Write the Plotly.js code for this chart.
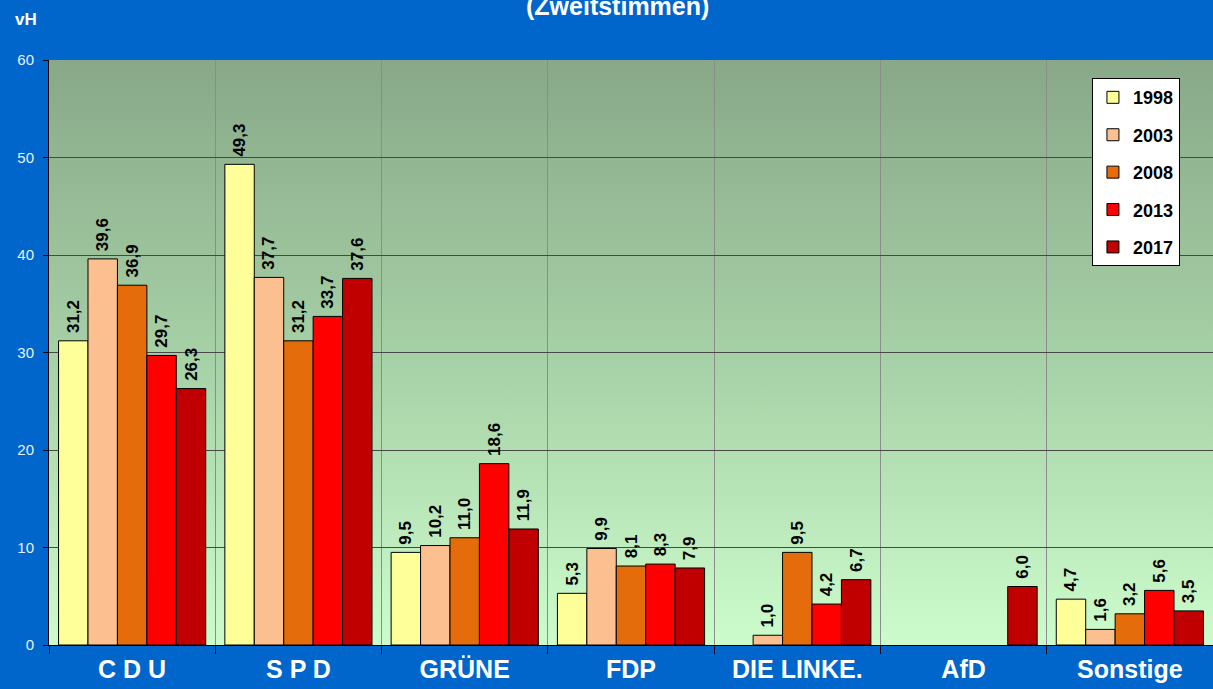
<!DOCTYPE html>
<html>
<head>
<meta charset="utf-8">
<script src="https://cdn.plot.ly/plotly-3.0.1.min.js"></script>
<style>html,body{margin:0;padding:0;background:#0066cc;}#chart{width:1213px;height:689px;}</style>
</head>
<body>
<div id="chart"></div>
<script>
const categories = ["C D U", "S P D", "GRÜNE", "FDP", "DIE LINKE.", "AfD", "Sonstige"];
const years = ["1998", "2003", "2008", "2013", "2017"];
const v1998 = [31.2, 49.3, 9.5, 5.3, null, null, 4.7];
const v2003 = [39.6, 37.7, 10.2, 9.9, 1.0, null, 1.6];
const v2008 = [36.9, 31.2, 11.0, 8.1, 9.5, null, 3.2];
const v2013 = [29.7, 33.7, 18.6, 8.3, 4.2, null, 5.6];
const v2017 = [26.3, 37.6, 11.9, 7.9, 6.7, 6.0, 3.5];
const series = [v1998, v2003, v2008, v2013, v2017];
const colors = ["#ffff99", "#fcbf8f", "#e46c0a", "#ff0000", "#c00000"];

const font = "Liberation Sans, Arial, sans-serif";

const traces = series.map((vals, i) => ({
  type: "bar",
  name: years[i],
  legendgroup: years[i],
  x: categories,
  y: vals,
  marker: {color: colors[i], line: {color: "#000000", width: 1}},
  text: vals.map(v => v === null ? "" : "\u00a0" + v.toFixed(1).replace(".", ",")),
  textposition: "outside",
  textangle: -90,
  cliponaxis: false,
  constraintext: "none",
  textfont: {family: font, size: 17, color: "#000000", weight: "bold"},
  hoverinfo: "x+y"
}));

const svg = "<svg xmlns='http://www.w3.org/2000/svg' width='10' height='100' preserveAspectRatio='none'>" +
  "<defs><linearGradient id='g' x1='0' y1='0' x2='0' y2='1'>" +
  "<stop offset='0' stop-color='#88a888'/><stop offset='0.55' stop-color='#a9d4a9'/><stop offset='1' stop-color='#ccfccc'/>" +
  "</linearGradient></defs><rect width='10' height='100' fill='url(#g)'/></svg>";
const bgSrc = "data:image/svg+xml;charset=utf-8," + encodeURIComponent(svg);

const layout = {
  width: 1213, height: 689,
  paper_bgcolor: "#0066cc",
  plot_bgcolor: "rgba(0,0,0,0)",
  margin: {l: 49, r: 0, t: 60, b: 44, pad: 0},
  barmode: "group",
  bargap: 0.115,
  bargroupgap: 0,
  showlegend: true,
  legend: {
    x: 0.896, y: 0.969, xanchor: "left", yanchor: "top",
    bgcolor: "#ffffff", bordercolor: "#000000", borderwidth: 1,
    font: {family: font, size: 18, color: "#000000", weight: "bold"},
    tracegroupgap: 11,
    itemwidth: 30,
    traceorder: "grouped"
  },
  xaxis: {
    type: "category",
    range: [-0.5, 6.5],
    tickson: "boundaries",
    ticks: "outside", ticklen: 8, tickcolor: "#000000", tickwidth: 1,
    showgrid: true, gridcolor: "#8c8c8c", gridwidth: 1,
    showline: true, linecolor: "#000000", linewidth: 1,
    tickfont: {family: font, size: 25, color: "#ffffff", weight: "bold"},
    ticklabelstandoff: 2,
    fixedrange: true
  },
  yaxis: {
    range: [0, 60], dtick: 10,
    ticks: "outside", ticklen: 5, tickcolor: "#000000",
    showgrid: true, gridcolor: "#484848", gridwidth: 1,
    showline: true, linecolor: "#000000", linewidth: 1,
    zeroline: false,
    tickfont: {family: font, size: 15, color: "#e8f2ff"},
    ticklabelstandoff: 6,
    fixedrange: true
  },
  images: [{
    source: bgSrc, xref: "paper", yref: "paper",
    x: 0, y: 1, sizex: 1, sizey: 1, sizing: "stretch",
    xanchor: "left", yanchor: "top", layer: "below"
  }],
  annotations: [
    {text: "(Zweitstimmen)", xref: "paper", yref: "paper", x: 0.488, y: 1.093,
     xanchor: "center", yanchor: "middle", showarrow: false,
     font: {family: font, size: 25, color: "#ffffff", weight: "bold"}},
    {text: "vH", xref: "paper", yref: "paper", x: -0.031, y: 1.07,
     xanchor: "left", yanchor: "middle", showarrow: false,
     font: {family: font, size: 17, color: "#ffffff", weight: "bold"}}
  ]
};

Plotly.newPlot("chart", traces, layout, {displayModeBar: false, staticPlot: true});
</script>
</body>
</html>
